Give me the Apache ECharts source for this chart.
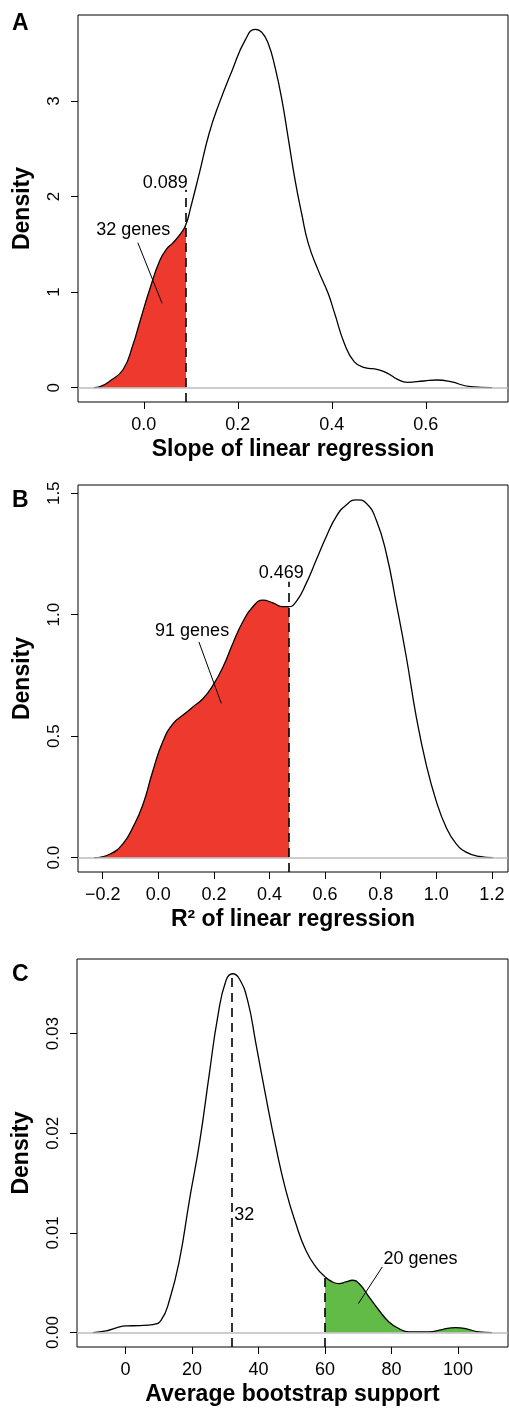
<!DOCTYPE html>
<html>
<head>
<meta charset="utf-8">
<script src="https://cdn.jsdelivr.net/npm/echarts@6/dist/echarts.min.js"></script>
<style>
  html, body { margin: 0; padding: 0; background: #fff; }
  #chart { width: 509px; height: 1412px; }
</style>
</head>
<body>
<div id="chart"></div>
<script>
// A: slope of linear regression (density)
var slopeX = [-0.106, -0.093, -0.072, -0.044, -0.023, -0.009, 0.012, 0.034, 0.050, 0.061, 0.075, 0.089,
  0.100, 0.118, 0.139, 0.160, 0.188, 0.216, 0.237, 0.251, 0.265, 0.279, 0.294, 0.308, 0.322, 0.336,
  0.350, 0.371, 0.392, 0.406, 0.427, 0.448, 0.470, 0.498, 0.519, 0.540, 0.561, 0.596, 0.624, 0.653, 0.695, 0.741];
var slopeY = [0, 0.01, 0.07, 0.19, 0.45, 0.68, 1.02, 1.33, 1.46, 1.51, 1.59, 1.70,
  1.89, 2.24, 2.66, 2.97, 3.32, 3.64, 3.75, 3.72, 3.60, 3.36, 3.01, 2.59, 2.17, 1.82,
  1.51, 1.23, 0.99, 0.78, 0.46, 0.27, 0.21, 0.19, 0.15, 0.087, 0.056, 0.07, 0.08, 0.063, 0.01, 0];
var slopeCut = 0.089;
var slopeTicksX = [0, 0.2, 0.4, 0.6];
var slopeTicksY = [0, 1, 2, 3];
var slopeRangeX = [-0.14, 0.775];
var slopeRangeY = [-0.15, 3.9];

// B: R^2 of linear regression
var r2X = [-0.231, -0.175, -0.127, -0.091, -0.055, -0.019, 0.017, 0.053, 0.089, 0.125, 0.161, 0.197,
  0.233, 0.268, 0.304, 0.340, 0.376, 0.412, 0.448, 0.469, 0.496, 0.532, 0.568, 0.604, 0.640, 0.676,
  0.712, 0.748, 0.784, 0.820, 0.856, 0.892, 0.928, 0.963, 0.999, 1.035, 1.071, 1.107, 1.155, 1.203];
var r2Y = [0, 0.014, 0.058, 0.126, 0.22, 0.36, 0.48, 0.552, 0.587, 0.621, 0.655, 0.71,
  0.786, 0.882, 0.971, 1.033, 1.060, 1.049, 1.033, 1.033, 1.054, 1.129, 1.225, 1.321, 1.404, 1.452,
  1.473, 1.459, 1.39, 1.253, 1.047, 0.827, 0.58, 0.387, 0.236, 0.126, 0.058, 0.023, 0.005, 0];
var r2Cut = 0.469;
var r2TicksX = [-0.2, 0, 0.2, 0.4, 0.6, 0.8, 1.0, 1.2];
var r2TicksY = [0, 0.5, 1.0, 1.5];
var r2RangeX = [-0.289, 1.258];
var r2RangeY = [-0.059, 1.534];

// C: average bootstrap support
var bootX = [-9.8, -5.8, -2.8, 0.2, 4.2, 8.2, 10.7, 13.2, 16.2, 19.2, 22.2, 25.2, 27.7, 30.2, 32.2,
  34.2, 36.7, 39.2, 42.2, 45.2, 48.2, 51.2, 54.2, 57.2, 60.0, 62.2, 64.2, 66.2, 68.2, 70.2, 73.2,
  76.2, 79.2, 82.2, 85.2, 91.2, 95.2, 99.2, 102.2, 106.2, 110.2];
var bootY = [0, 0.00017, 0.00047, 0.00067, 0.0007, 0.0008, 0.00124, 0.00324, 0.00726, 0.01328, 0.01896,
  0.026, 0.03167, 0.03535, 0.03602, 0.03552, 0.03334, 0.029, 0.02365, 0.01863, 0.01428, 0.01094,
  0.00826, 0.00659, 0.00559, 0.00508, 0.00492, 0.00508, 0.00525, 0.00492, 0.00358, 0.00224, 0.00107,
  0.0004, 0.00007, 0.00007, 0.0003, 0.0005, 0.0004, 0.00007, 0];
var bootMode = 32;
var bootCut = 60;
var bootTicksX = [0, 20, 40, 60, 80, 100];
var bootTicksY = [0, 0.01, 0.02, 0.03];
var bootRangeX = [-14.6, 115];
var bootRangeY = [-0.00145, 0.0375];

// annotation texts: [x, y, text] and pointer segments [x1, y1, x2, y2]
var slopeNotes = [[0.0458, 2.144, '0.089'], [-0.0224, 1.65, '32 genes']];
var slopePointer = [-0.0127, 1.517, 0.0389, 0.883];
var r2Notes = [[0.442, 1.170, '0.469'], [0.1215, 0.934, '91 genes']];
var r2Pointer = [0.146, 0.888, 0.2265, 0.635];
var bootNotes = [[35.7, 0.01179, '32'], [88.7, 0.00734, '20 genes']];
var bootPointer = [77.2, 0.00659, 70.0, 0.00291];

var RED = '#ee3a2e';
var GREEN = '#62bb47';
var FONT = 'Liberation Sans, Arial, sans-serif';
var SMOOTH = 0.5;

function zip(xs, ys) {
  return xs.map(function (x, i) { return [x, ys[i]]; });
}
function minus(s) { return s.replace('-', '\u2212'); }

var grids = [
  { left: 78, top: 15, width: 430, height: 387 },
  { left: 78, top: 485, width: 430, height: 387 },
  { left: 77, top: 959, width: 431, height: 388 }
];
grids.forEach(function (g) {
  g.show = true; g.borderColor = '#000'; g.borderWidth = 1; g.backgroundColor = 'transparent';
});

function xAxisFor(i, range, ticks, fmt, name) {
  return {
    gridIndex: i, type: 'value', min: range[0], max: range[1],
    axisLine: { show: false, onZero: false },
    splitLine: { show: false },
    axisTick: { show: true, customValues: ticks, length: 7, lineStyle: { color: '#000', width: 1 } },
    axisLabel: { customValues: ticks, formatter: fmt, color: '#000', fontSize: 18, margin: 14, fontFamily: FONT },
    name: name, nameLocation: 'middle', nameGap: 36,
    nameTextStyle: { fontSize: 23, fontWeight: 'bold', color: '#000', fontFamily: FONT }
  };
}
function yAxisFor(i, range, ticks, fmt) {
  return {
    gridIndex: i, type: 'value', min: range[0], max: range[1],
    axisLine: { show: false, onZero: false },
    splitLine: { show: false },
    axisTick: { show: true, customValues: ticks, length: 7, lineStyle: { color: '#000', width: 1 } },
    axisLabel: { customValues: ticks, formatter: fmt, rotate: 90, color: '#000', fontSize: 17, margin: 15, fontFamily: FONT },
    name: 'Density', nameLocation: 'middle', nameGap: 44,
    nameTextStyle: { fontSize: 23, fontWeight: 'bold', color: '#000', fontFamily: FONT }
  };
}

function seriesFor(i, xs, ys, rangeY, dashX, pointer, notes) {
  var data = zip(xs, ys);
  var marks = [{ yAxis: 0, lineStyle: { color: '#bdbdbd', type: 'solid', width: 1.5 } }];
  dashX.forEach(function (d) {
    marks.push([{ coord: [d[0], rangeY[0]], lineStyle: { color: '#000', type: [9, 6], width: 1.6 } },
                { coord: [d[0], d[1]] }]);
  });
  marks.push([{ coord: [pointer[0], pointer[1]], lineStyle: { color: '#000', type: 'solid', width: 1 } },
              { coord: [pointer[2], pointer[3]] }]);
  return [
    {
      type: 'line', xAxisIndex: i, yAxisIndex: i, data: data, smooth: SMOOTH, symbol: 'none',
      lineStyle: { width: 0 }, areaStyle: { opacity: 1 }, silent: true, z: 1
    },
    {
      type: 'line', xAxisIndex: i, yAxisIndex: i, data: data, smooth: SMOOTH, symbol: 'none',
      lineStyle: { color: '#000', width: 1.3 }, silent: true, z: 3,
      markLine: { symbol: ['none', 'none'], silent: true, label: { show: false }, data: marks }
    },
    {
      type: 'scatter', xAxisIndex: i, yAxisIndex: i, data: notes, symbolSize: 1,
      itemStyle: { color: 'rgba(0,0,0,0)', opacity: 1 }, silent: true, z: 5,
      label: {
        show: true, position: 'inside', color: '#000', opacity: 1, fontSize: 18, fontFamily: FONT,
        textBorderWidth: 0, textBorderColor: 'transparent',
        formatter: function (p) { return p.data[2]; }
      }
    }
  ];
}

var series = []
  .concat(seriesFor(0, slopeX, slopeY, slopeRangeY, [[slopeCut, 2.07]], slopePointer, slopeNotes))
  .concat(seriesFor(1, r2X, r2Y, r2RangeY, [[r2Cut, 1.136]], r2Pointer, r2Notes))
  .concat(seriesFor(2, bootX, bootY, bootRangeY, [[bootMode, 0.036], [bootCut, 0.00559]], bootPointer, bootNotes));

// fill sections: finite pieces so the gradient gets real stops
var clear = 'rgba(0,0,0,0)';
function fillMap(idx, range, cut, below, above) {
  return {
    show: false, type: 'piecewise', dimension: 0, seriesIndex: idx,
    pieces: [{ gte: range[0], lt: cut, color: below }, { gte: cut, lte: range[1], color: above }]
  };
}

var option = {
  animation: false,
  backgroundColor: '#fff',
  grid: grids,
  xAxis: [
    xAxisFor(0, slopeRangeX, slopeTicksX, function (v) { return v.toFixed(1); }, 'Slope of linear regression'),
    xAxisFor(1, r2RangeX, r2TicksX, function (v) { return minus(v.toFixed(1)); }, 'R\u00b2 of linear regression'),
    xAxisFor(2, bootRangeX, bootTicksX, function (v) { return String(Math.round(v)); }, 'Average bootstrap support')
  ],
  yAxis: [
    yAxisFor(0, slopeRangeY, slopeTicksY, function (v) { return String(Math.round(v)); }),
    yAxisFor(1, r2RangeY, r2TicksY, function (v) { return v.toFixed(1); }),
    yAxisFor(2, bootRangeY, bootTicksY, function (v) { return v.toFixed(2); })
  ],
  visualMap: [
    fillMap(0, slopeRangeX, slopeCut, RED, clear),
    fillMap(3, r2RangeX, r2Cut, RED, clear),
    fillMap(6, bootRangeX, bootCut, clear, GREEN)
  ],
  graphic: [
    { type: 'text', left: 12, top: 12, style: { text: 'A', font: 'bold 23px ' + FONT, fill: '#000' } },
    { type: 'text', left: 12, top: 489, style: { text: 'B', font: 'bold 23px ' + FONT, fill: '#000' } },
    { type: 'text', left: 12, top: 963, style: { text: 'C', font: 'bold 23px ' + FONT, fill: '#000' } }
  ],
  series: series
};

var chart = echarts.init(document.getElementById('chart'));
chart.setOption(option);
</script>
</body>
</html>
